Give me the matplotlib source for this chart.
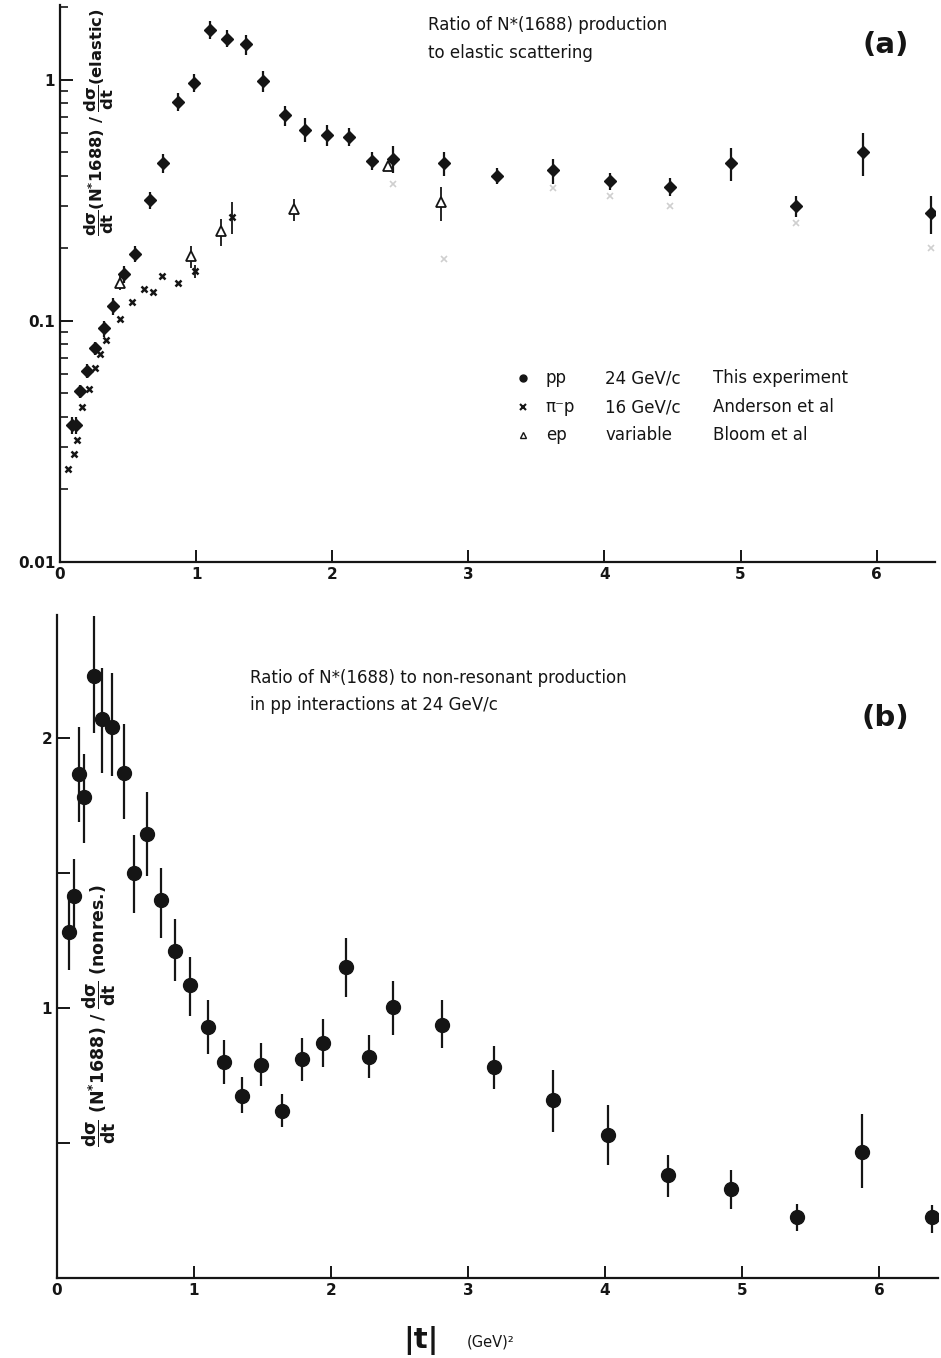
import matplotlib
matplotlib.use("Agg")
import numpy as np
import matplotlib.pyplot as plt
from matplotlib.ticker import FixedLocator, LogLocator, NullFormatter

plt.rcParams['font.family'] = ['DejaVu Sans']
plt.rcParams['mathtext.fontset'] = 'custom'
plt.rcParams['mathtext.rm'] = 'DejaVu Sans:bold'
plt.rcParams['mathtext.it'] = 'DejaVu Sans:bold'
plt.rcParams['mathtext.bf'] = 'DejaVu Sans:bold'

# ---- panel (a): ratio to elastic scattering (log scale) ----
pp_a_t = [0.09, 0.12, 0.147, 0.20, 0.26, 0.32, 0.39, 0.47, 0.55, 0.66, 0.76, 0.87,
          0.985, 1.10, 1.23, 1.37, 1.49, 1.65, 1.80, 1.96, 2.12, 2.29, 2.45, 2.82,
          3.21, 3.62, 4.04, 4.48, 4.93, 5.41, 5.90, 6.40]
pp_a_r = [0.037, 0.037, 0.051, 0.062, 0.077, 0.093, 0.115, 0.156, 0.19, 0.316, 0.45, 0.81,
          0.97, 1.61, 1.48, 1.40, 0.99, 0.71, 0.62, 0.59, 0.58, 0.46, 0.47, 0.45,
          0.40, 0.42, 0.38, 0.36, 0.45, 0.30, 0.50, 0.28]
pp_a_err = [0.003, 0.003, 0.003, 0.004, 0.005, 0.007, 0.009, 0.012, 0.015, 0.025, 0.04, 0.07,
            0.08, 0.14, 0.12, 0.13, 0.10, 0.07, 0.07, 0.06, 0.05, 0.04, 0.06, 0.05,
            0.03, 0.05, 0.03, 0.03, 0.07, 0.03, 0.10, 0.05]

pim_t = [0.06, 0.10, 0.125, 0.16, 0.21, 0.26, 0.29, 0.34, 0.44, 0.53, 0.62, 0.68,
         0.75, 0.87, 0.99, 1.26]
pim_r = [0.0243, 0.028, 0.032, 0.044, 0.052, 0.064, 0.073, 0.083, 0.102, 0.12, 0.135, 0.131,
         0.154, 0.144, 0.161, 0.27]
pim_err = [0, 0, 0, 0, 0, 0, 0, 0, 0, 0, 0, 0, 0, 0, 0.01, 0.04]

# faintly printed points at large |t|
faint_t = [2.45, 2.82, 3.62, 4.04, 4.48, 5.41, 6.40]
faint_r = [0.37, 0.18, 0.355, 0.33, 0.30, 0.254, 0.20]

ep_t = [0.44, 0.96, 1.18, 1.72, 2.41, 2.80]
ep_r = [0.144, 0.185, 0.235, 0.29, 0.44, 0.31]
ep_err = [0.01, 0.02, 0.03, 0.03, 0.02, 0.05]

legend_beam = ['pp', 'π⁻p', 'ep']
legend_mom = ['24 GeV/c', '16 GeV/c', 'variable']
legend_ref = ['This experiment', 'Anderson et al', 'Bloom et al']

# ---- panel (b): ratio to non-resonant production ----
pp_b_t = [0.088, 0.124, 0.16, 0.20, 0.27, 0.33, 0.40, 0.49, 0.56, 0.66, 0.76, 0.86,
          0.97, 1.10, 1.22, 1.35, 1.49, 1.64, 1.79, 1.94, 2.11, 2.28, 2.45, 2.81,
          3.19, 3.62, 4.02, 4.46, 4.92, 5.40, 5.88, 6.39]
pp_b_r = [1.28, 1.415, 1.867, 1.78, 2.23, 2.07, 2.04, 1.87, 1.50, 1.645, 1.40, 1.21,
          1.085, 0.93, 0.80, 0.675, 0.79, 0.62, 0.81, 0.87, 1.15, 0.82, 1.004, 0.937,
          0.78, 0.66, 0.53, 0.38, 0.33, 0.226, 0.467, 0.226]
pp_b_hi = [1.43, 1.55, 2.04, 1.94, 2.45, 2.26, 2.24, 2.05, 1.64, 1.80, 1.52, 1.33,
           1.19, 1.03, 0.88, 0.745, 0.87, 0.68, 0.89, 0.96, 1.26, 0.90, 1.10, 1.03,
           0.86, 0.77, 0.64, 0.455, 0.40, 0.275, 0.607, 0.27]
pp_b_lo = [1.14, 1.28, 1.69, 1.61, 2.02, 1.87, 1.86, 1.70, 1.35, 1.49, 1.26, 1.10,
           0.97, 0.83, 0.72, 0.61, 0.71, 0.56, 0.73, 0.78, 1.04, 0.74, 0.90, 0.85,
           0.70, 0.54, 0.42, 0.30, 0.255, 0.175, 0.333, 0.167]

x_ticks = [0, 1, 2, 3, 4, 5, 6]

fig = plt.figure(figsize=(9.41, 13.58), dpi=100)
ax1 = fig.add_axes([0.0638, 0.5862, 0.930, 0.4102])
ax2 = fig.add_axes([0.0606, 0.0589, 0.936, 0.4882])

ink = '#151515'


def style_axis(ax):
    for side in ['top', 'right']:
        ax.spines[side].set_visible(False)
    for side in ['left', 'bottom']:
        ax.spines[side].set_linewidth(1.6)
        ax.spines[side].set_color(ink)
    ax.tick_params(which='major', direction='in', length=9, width=1.4, colors=ink,
                   labelsize=11)
    ax.tick_params(which='minor', direction='in', length=6, width=1.2, colors=ink)
    ax.set_xlim(0, 6.43)
    ax.set_xticks(x_ticks)
    for lab in ax.get_xticklabels() + ax.get_yticklabels():
        lab.set_fontweight('bold')


# panel (a)
ax1.set_yscale('log')
ax1.set_ylim(0.01, 2.04)
ax1.errorbar(faint_t, faint_r, fmt='x', ms=4, mew=1.2, color='#cfcfcf')
ax1.errorbar(pim_t, pim_r, yerr=pim_err, fmt='x', ms=5, mew=1.8, color=ink,
             elinewidth=1.3, capsize=0)
ax1.errorbar(pp_a_t, pp_a_r, yerr=pp_a_err, fmt='D', ms=6.5, color=ink,
             elinewidth=1.6, capsize=0)
ax1.errorbar(ep_t, ep_r, yerr=ep_err, fmt='^', ms=7, mfc='white', mec=ink, mew=1.3,
             color=ink, elinewidth=1.3, capsize=0)
style_axis(ax1)
ax1.yaxis.set_major_locator(FixedLocator([0.01, 0.1, 1]))
ax1.yaxis.set_minor_locator(LogLocator(base=10, subs=np.arange(2, 10)))
ax1.yaxis.set_minor_formatter(NullFormatter())
ax1.set_yticklabels(['0.01', '0.1', '1'], fontweight='bold')

ax1.text(0.421, 0.964, 'Ratio of N*(1688) production', transform=ax1.transAxes,
         fontsize=12, va='center', color=ink)
ax1.text(0.421, 0.914, 'to elastic scattering', transform=ax1.transAxes,
         fontsize=12, va='center', color=ink)
ax1.text(0.943, 0.928, '(a)', transform=ax1.transAxes, fontsize=21,
         fontweight='bold', ha='center', va='center', color=ink)

legend_styles = [dict(marker='o', ms=5, color=ink),
                 dict(marker='x', ms=4, mew=1.5, color=ink),
                 dict(marker='^', ms=5, mfc='white', mec=ink, color=ink)]
row_y = [0.330, 0.278, 0.228]
for i in range(3):
    ax1.plot([0.529], [row_y[i]], transform=ax1.transAxes, ls='none',
             **legend_styles[i])
    ax1.text(0.555, row_y[i], legend_beam[i], transform=ax1.transAxes,
             fontsize=12, va='center', color=ink)
    ax1.text(0.623, row_y[i], legend_mom[i], transform=ax1.transAxes,
             fontsize=12, va='center', color=ink)
    ax1.text(0.746, row_y[i], legend_ref[i], transform=ax1.transAxes,
             fontsize=12, va='center', color=ink)

fig.text(0.106, 0.910,
         r'$\dfrac{d\sigma}{dt}$(N$^{*}$1688) / $\dfrac{d\sigma}{dt}$(elastic)',
         rotation=90, ha='center', va='center', fontsize=11.8, fontweight='bold',
         color=ink)

# panel (b)
ax2.errorbar(pp_b_t, pp_b_r,
             yerr=[np.subtract(pp_b_r, pp_b_lo), np.subtract(pp_b_hi, pp_b_r)],
             fmt='o', ms=10, color=ink, elinewidth=1.6, capsize=0)
style_axis(ax2)
ax2.set_ylim(0, 2.455)
ax2.set_yticks([0.5, 1, 1.5, 2])
ax2.set_yticklabels(['', '1', '', '2'], fontweight='bold')

ax2.text(0.219, 0.905, 'Ratio of N*(1688) to non-resonant production',
         transform=ax2.transAxes, fontsize=12, va='center', color=ink)
ax2.text(0.219, 0.864, 'in pp interactions at 24 GeV/c',
         transform=ax2.transAxes, fontsize=12, va='center', color=ink)
ax2.text(0.94, 0.845, '(b)', transform=ax2.transAxes, fontsize=21,
         fontweight='bold', ha='center', va='center', color=ink)

fig.text(0.106, 0.252,
         r'$\dfrac{d\sigma}{dt}$ (N$^{*}$1688) / $\dfrac{d\sigma}{dt}$ (nonres.)',
         rotation=90, ha='center', va='center', fontsize=12.5, fontweight='bold',
         color=ink)

fig.text(0.447, 0.013, '|t|', fontsize=21, fontweight='bold', ha='center',
         va='center', color=ink)
fig.text(0.496, 0.012, '(GeV)²', fontsize=10.5, ha='left', va='center', color=ink)

fig.savefig('out.png', dpi=100, facecolor='white')
